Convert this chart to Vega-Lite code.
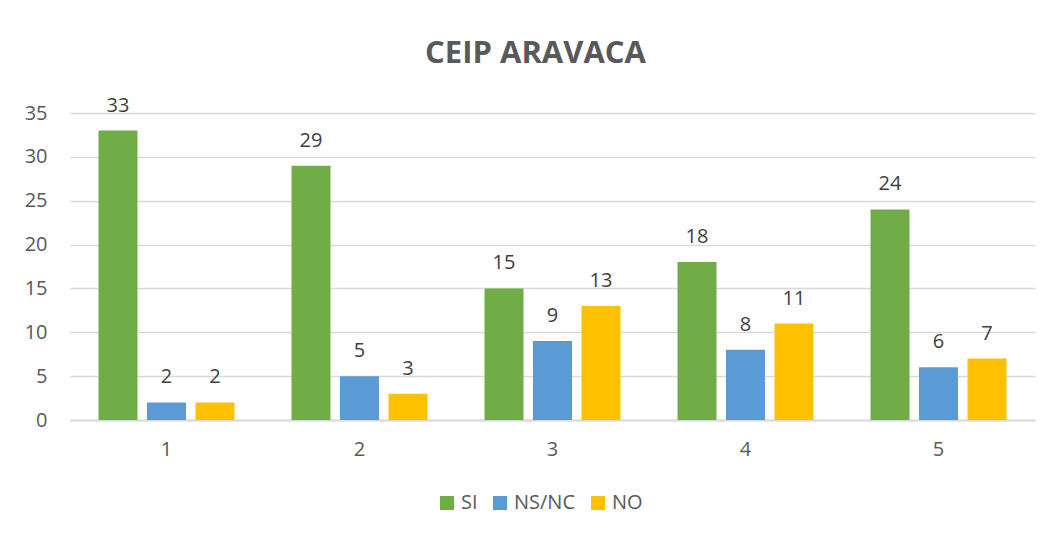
{
  "$schema": "https://vega.github.io/schema/vega-lite/v6.json",
  "autosize": {"type": "none"},
  "width": 965,
  "height": 307,
  "padding": {"left": 70, "top": 113, "right": 14, "bottom": 116},
  "background": "white",
  "title": {
    "text": "CEIP ARAVACA",
    "fontSize": 31,
    "font": "Open Sans",
    "fontWeight": "bold",
    "color": "#595959",
    "anchor": "middle",
    "dx": -17,
    "offset": 26
  },
  "config": {
    "font": "Open Sans",
    "view": {"stroke": null}
  },
  "data": {
    "values": [
      {"cat": "1", "serie": "SI", "val": 33},
      {"cat": "1", "serie": "NS/NC", "val": 2},
      {"cat": "1", "serie": "NO", "val": 2},
      {"cat": "2", "serie": "SI", "val": 29},
      {"cat": "2", "serie": "NS/NC", "val": 5},
      {"cat": "2", "serie": "NO", "val": 3},
      {"cat": "3", "serie": "SI", "val": 15},
      {"cat": "3", "serie": "NS/NC", "val": 9},
      {"cat": "3", "serie": "NO", "val": 13},
      {"cat": "4", "serie": "SI", "val": 18},
      {"cat": "4", "serie": "NS/NC", "val": 8},
      {"cat": "4", "serie": "NO", "val": 11},
      {"cat": "5", "serie": "SI", "val": 24},
      {"cat": "5", "serie": "NS/NC", "val": 6},
      {"cat": "5", "serie": "NO", "val": 7}
    ]
  },
  "encoding": {
    "x": {
      "field": "cat",
      "type": "nominal",
      "scale": {"paddingInner": 0, "paddingOuter": 0},
      "axis": {
        "title": null,
        "labelAngle": 0,
        "labelFontSize": 20,
        "labelColor": "#595959",
        "labelPadding": 19,
        "ticks": false,
        "domainColor": "#d9d9d9",
        "domainWidth": 2,
        "grid": false
      }
    },
    "xOffset": {
      "field": "serie",
      "type": "nominal",
      "sort": ["SI", "NS/NC", "NO"],
      "scale": {"paddingInner": 0.196, "paddingOuter": 0.588}
    },
    "y": {
      "field": "val",
      "type": "quantitative",
      "scale": {"domain": [0, 35], "nice": false},
      "axis": {
        "title": null,
        "values": [0, 5, 10, 15, 20, 25, 30, 35],
        "labelFontSize": 20,
        "labelColor": "#595959",
        "labelPadding": 23,
        "ticks": false,
        "domain": false,
        "gridColor": "#d9d9d9",
        "gridWidth": 1.5
      }
    }
  },
  "layer": [
    {
      "mark": {"type": "bar"},
      "encoding": {
        "color": {
          "field": "serie",
          "type": "nominal",
          "sort": ["SI", "NS/NC", "NO"],
          "scale": {"domain": ["SI", "NS/NC", "NO"], "range": ["#70AD47", "#5B9BD5", "#FFC000"]},
          "legend": {
            "title": null,
            "orient": "none",
            "direction": "horizontal",
            "legendX": 367,
            "legendY": 380,
            "symbolType": "square",
            "symbolSize": 196,
            "symbolStrokeWidth": 0,
            "symbolOpacity": 1,
            "labelFontSize": 20,
            "labelColor": "#595959",
            "columnPadding": 12,
            "labelOffset": 4
          }
        }
      }
    },
    {
      "mark": {"type": "text", "baseline": "alphabetic", "dy": -19, "fontSize": 20, "color": "#404040"},
      "encoding": {
        "text": {"field": "val", "type": "quantitative"}
      }
    }
  ]
}
